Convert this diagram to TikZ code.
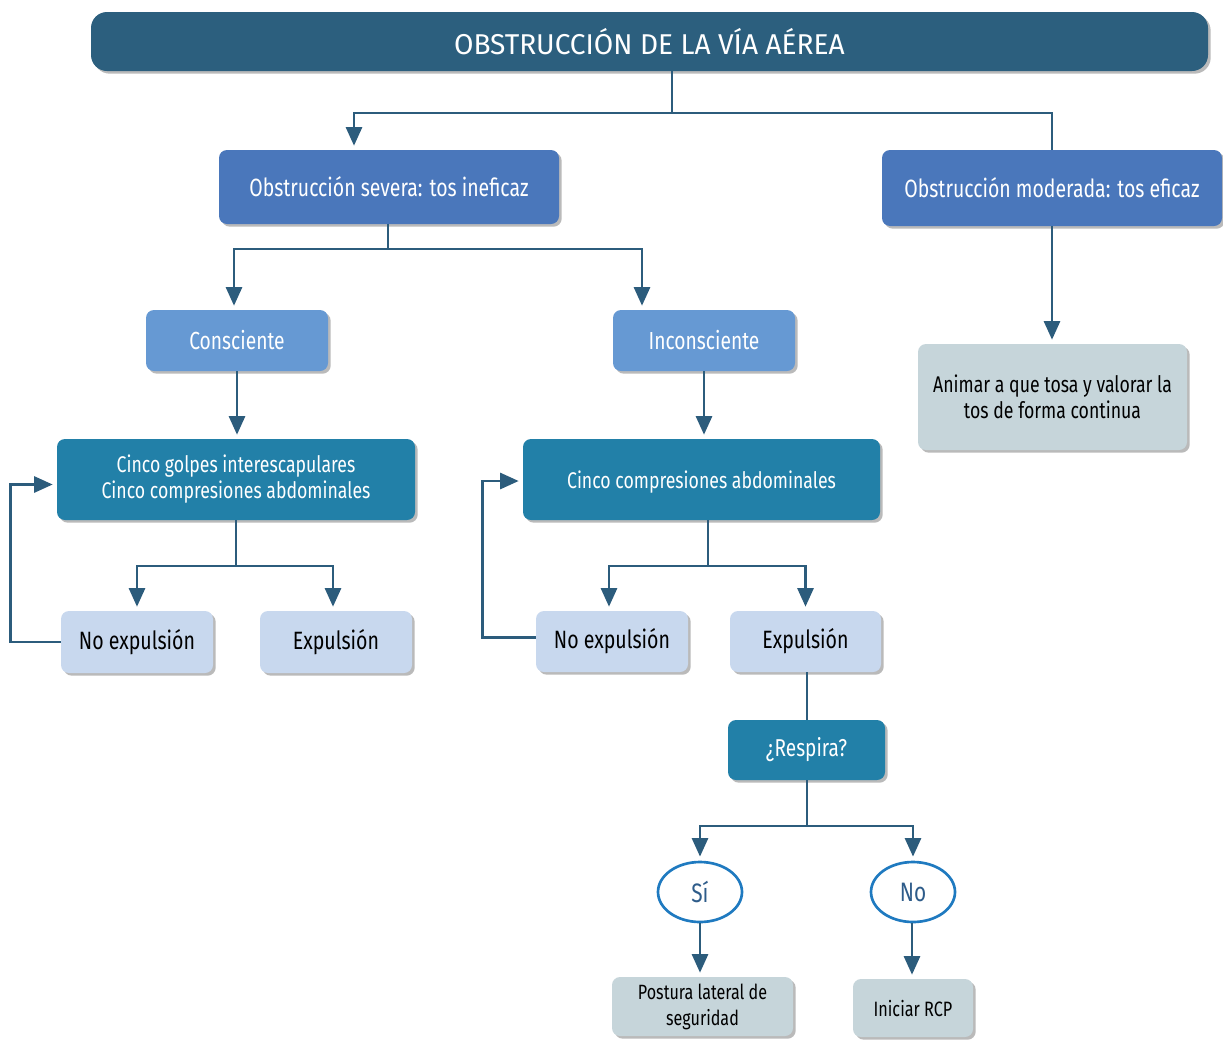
\documentclass[tikz,border=0pt]{standalone}
\usepackage{fontspec}
\setmainfont{Fira Sans}[FakeStretch=0.78]
\newfontfamily\titlefont{Fira Sans}[FakeStretch=0.98]
\usetikzlibrary{shapes.geometric,shadows,calc,arrows.meta}
\definecolor{cTitle}{HTML}{2C5F7E}
\definecolor{cSev}{HTML}{4A77BB}
\definecolor{cCon}{HTML}{6699D3}
\definecolor{cAct}{HTML}{2280A8}
\definecolor{cGrey}{HTML}{C6D5DA}
\definecolor{cLight}{HTML}{C8D8EE}
\definecolor{cLine}{HTML}{2C5C7C}
\definecolor{cEll}{HTML}{1F7AC0}
\definecolor{cEllT}{HTML}{2E5C8A}
\tikzset{
  box/.style={rounded corners=6pt, inner sep=2pt, align=center,
    drop shadow={shadow xshift=2pt, shadow yshift=-2pt, opacity=0.45, fill=black!60}},
  titlebox/.style={box, fill=cTitle, text=white, rounded corners=12pt, font=\titlefont\fontsize{21.5}{24}\selectfont},
  sevbox/.style={box, fill=cSev, text=white, font=\fontsize{18.7}{22}\selectfont},
  conbox/.style={box, fill=cCon, text=white, font=\fontsize{18.5}{22}\selectfont},
  actbox/.style={box, fill=cAct, text=white, font=\fontsize{17}{19.5}\selectfont},
  greybox/.style={box, fill=cGrey, text=black, font=\fontsize{17}{19.5}\selectfont},
  lightbox/.style={box, fill=cLight, text=black, font=\fontsize{18.8}{22}\selectfont},
  ellnode/.style={ellipse, draw=cEll, line width=2pt, fill=white, text=cEllT, inner sep=0pt, font=\fontsize{20}{22}\selectfont},
  conn/.style={draw=cLine, line width=2.2pt},
  arr/.style={conn, -{Triangle[length=14pt,width=12pt]}, shorten >=3pt},
}
\begin{document}
\begin{tikzpicture}[x=0.75pt,y=-0.75pt]
\useasboundingbox (0,0) rectangle (1223,1039);
% nodes
\node[titlebox, minimum width=837.75pt, minimum height=44.25pt] (title) at (649.5,41.5) {OBSTRUCCIÓN DE LA VÍA AÉREA};
\node[sevbox, minimum width=255pt, minimum height=55.5pt] (sev) at (389,187) {Obstrucción severa: tos ineficaz};
\node[sevbox, minimum width=255pt, minimum height=57pt] (mod) at (1052,188) {Obstrucción moderada: tos eficaz};
\node[conbox, minimum width=136.5pt, minimum height=45.75pt] (cons) at (237,340.5) {Consciente};
\node[conbox, minimum width=136.5pt, minimum height=45.75pt] (incons) at (704,340.5) {Inconsciente};
\node[greybox, minimum width=201.75pt, minimum height=79.5pt] (anim) at (1052.5,397) {Animar a que tosa y valorar la\\tos de forma continua};
\node[actbox, minimum width=268.5pt, minimum height=60.75pt, text depth=4pt] (golp) at (236,479.5) {Cinco golpes interescapulares\\Cinco compresiones abdominales};
\node[actbox, minimum width=267.75pt, minimum height=60.75pt, text depth=0.5pt] (comp) at (701.5,479.5) {Cinco compresiones abdominales};
\node[lightbox, minimum width=114pt, minimum height=46.5pt] (noexpA) at (137,642) {No expulsión};
\node[lightbox, minimum width=114pt, minimum height=46.5pt] (expA) at (336,642) {Expulsión};
\node[lightbox, minimum width=114pt, minimum height=45.75pt] (noexpB) at (612,641.5) {No expulsión};
\node[lightbox, minimum width=113.25pt, minimum height=45.75pt] (expB) at (805.5,641.5) {Expulsión};
\node[actbox, font=\fontsize{18.3}{22}\selectfont, minimum width=117.75pt, minimum height=45pt] (resp) at (806.5,750) {¿Respira?};
\node[ellnode, minimum width=63pt, minimum height=45pt] (si) at (700,892) {Sí};
\node[ellnode, minimum width=63pt, minimum height=45pt] (no) at (913,892) {No};
\node[greybox, font=\fontsize{15.5}{19.5}\selectfont, minimum width=135.75pt, minimum height=44.25pt] (post) at (702.5,1006.5) {Postura lateral de\\seguridad};
\node[greybox, font=\fontsize{15.6}{19.5}\selectfont, minimum width=90pt, minimum height=43.5pt] (rcp) at (913,1008) {Iniciar RCP};
% junctions
\coordinate (j1) at (672,113);
\coordinate (j2) at (388,249);
\coordinate (j3) at (236,566);
\coordinate (j4) at (708,566);
\coordinate (j5) at (807,826);
% connectors
\draw[conn] (title.south -| j1) -- (j1);
\draw[arr] (j1) -| ($(sev.north)+(-35,0)$);
\draw[conn] (j1) -| (mod.north);
\draw[conn] (sev.south -| j2) -- (j2);
\draw[arr] (j2) -| (cons.north -| 234,0);
\draw[arr] (j2) -| ($(incons.north)+(-62,0)$);
\draw[arr] (mod.south) -- (mod.south |- anim.north);
\draw[arr] (cons.south) -- (cons.south |- golp.north);
\draw[arr] (incons.south) -- (incons.south |- comp.north);
\draw[conn] (golp.south -| j3) -- (j3);
\draw[arr] (j3) -| (noexpA.north);
\draw[arr] (j3) -| (expA.north -| 333,0);
\draw[arr] (noexpA.west) -- ++(-50,0) |- ($(golp.west)+(0,5)$);
\draw[conn] (comp.south -| j4) -- (j4);
\draw[arr] (j4) -| (noexpB.north -| 609,0);
\draw[arr] (j4) -| (expB.north);
\draw[arr] ($(noexpB.west)+(0,-4)$) -- ++(-53,0) |- ($(comp.west)+(0,1.5)$);
\draw[conn] (expB.south -| j5) -- (resp.north -| j5);
\draw[conn] (resp.south -| j5) -- (j5);
\draw[arr] (j5) -| (si.north);
\draw[arr] (j5) -| (no.north);
\draw[arr] (si.south) -- (si.south |- post.north);
\draw[arr] (no.south -| 912,0) -- (rcp.north -| 912,0);
\end{tikzpicture}
\end{document}
